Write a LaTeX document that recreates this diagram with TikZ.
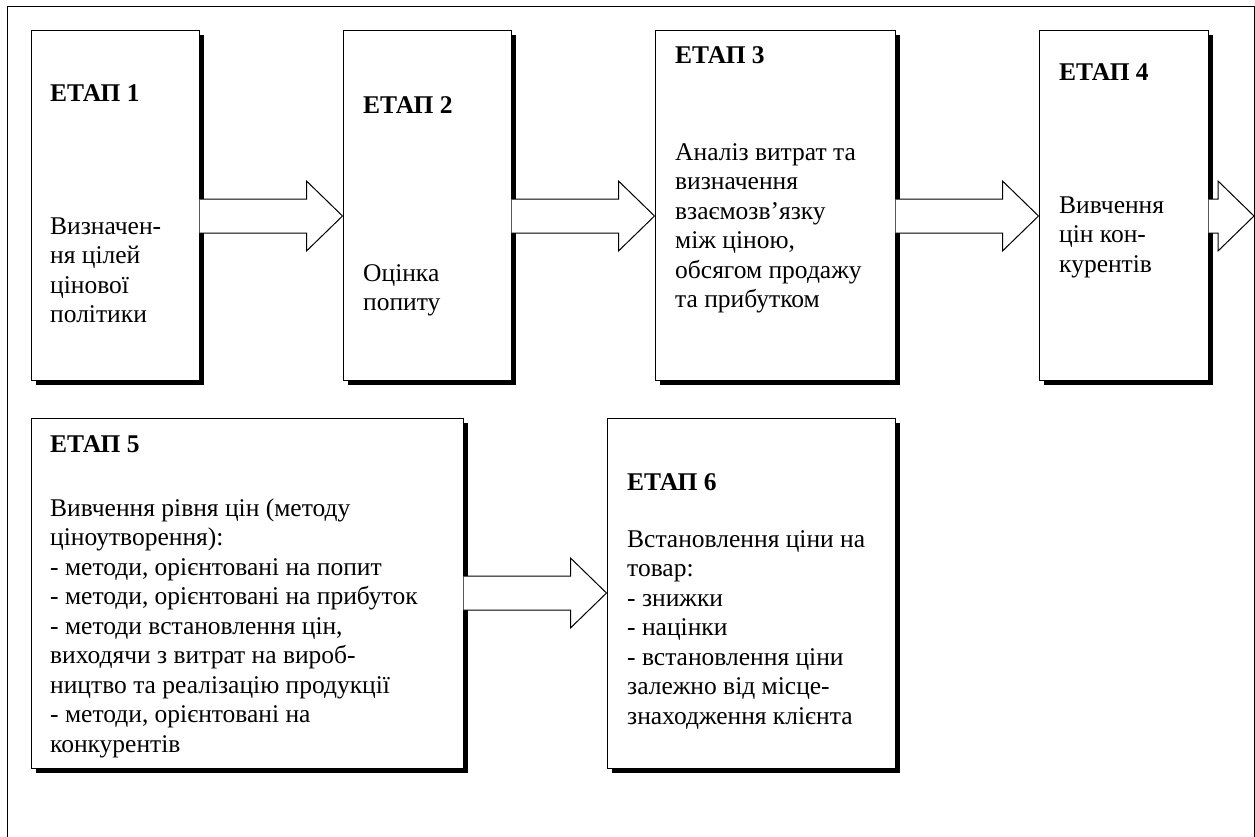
\documentclass[tikz,border=0pt]{standalone}
\usepackage{fontspec}
\setmainfont{Liberation Serif}[Ligatures=TeX]
\usetikzlibrary{positioning, calc, shadows}

\newcommand{\stagefont}{\fontsize{25.5}{29.5}\selectfont}

\tikzset{
  stagebox/.style={draw, line width=1pt, fill=white, inner sep=0pt,
    minimum height=350pt,
    general shadow={fill=black, shadow xshift=5pt, shadow yshift=-5pt}},
  stagetitle/.style={anchor=base west, inner sep=0pt, font=\stagefont\bfseries},
  % first baseline at the given point (strut is 0.7 of 29.5pt)
  stagetext/.style={anchor=north west, yshift=20.65pt, inner sep=0pt,
    align=left, font=\stagefont, execute at begin node=\strut},
  blockarrow/.style={line width=1pt, fill=white, line join=miter},
  rim/.style={line width=0.9pt}
}

% block arrow: from the east side of #1 to the point #2, axis #3 below #2
\newcommand{\stagearrow}[3]{%
  \filldraw[blockarrow] let \p1=(#1.east), \p2=(#2) in
    (\x1,\y2-#3+17) -- (\x2-36,\y2-#3+17) -- (\x2-36,\y2-#3+35)
    -- (\x2,\y2-#3) -- (\x2-36,\y2-#3-35) -- (\x2-36,\y2-#3-17)
    -- (\x1,\y2-#3-17);}

\begin{document}
\begin{tikzpicture}[x=1pt, y=-1pt, font=\stagefont]
  \useasboundingbox (0,0) rectangle (1255,836);
  % outer frame
  \draw[rim] (7,840) |- (1254,6) -- (1254,840);
  \coordinate (rimE) at (1254,216);

  % first row
  \node[stagebox, minimum width=168pt] (s1) at (115,205) {};
  \node[stagebox, minimum width=168pt] (s2) at (427,205) {};
  \node[stagebox, minimum width=240pt] (s3) at (775,205) {};
  \node[stagebox, minimum width=169pt] (s4) at (1123.5,205) {};
  % second row
  \node[stagebox, minimum width=432pt] (s5) at (247,593) {};
  \node[stagebox, minimum width=288pt] (s6) at (751,593) {};

  % texts
  \node[stagetitle] (t1) at (50,101) {ЕТАП 1};
  \node[stagetext] (d1) at (50,238) {Визначен-\\ня цілей\\цінової\\політики};
  \node[stagetitle] (t2) at (363,113) {ЕТАП 2};
  \node[stagetext] (d2) at (363,285) {Оцінка\\попиту};
  \node[stagetitle] (t3) at (675,63) {ЕТАП 3};
  \node[stagetext] (d3) at (675,164) {Аналіз витрат та\\визначення\\взаємозв’язку\\між ціною,\\обсягом продажу\\та прибутком};
  \node[stagetitle] (t4) at (1059,80) {ЕТАП 4};
  \node[stagetext] (d4) at (1059,217) {Вивчення\\цін кон-\\курентів};
  \node[stagetitle] (t5) at (50,452) {ЕТАП 5};
  \node[stagetext] (d5) at (50,519) {Вивчення рівня цін (методу\\ціноутворення):\\- методи, орієнтовані на попит\\- методи, орієнтовані на прибуток\\- методи встановлення цін,\\виходячи з витрат на вироб-\\ництво та реалізацію продукції\\- методи, орієнтовані на\\конкурентів};
  \node[stagetitle] (t6) at (627,490) {ЕТАП 6};
  \node[stagetext] (d6) at (627,551) {Встановлення ціни на\\товар:\\- знижки\\- націнки\\- встановлення ціни\\залежно від місце-\\знаходження клієнта};

  % arrows between stages
  \foreach \a/\b/\d in {s1/s2.west/11, s2/s3.west/11, s3/s4.west/11, s4/rimE/0, s5/s6.west/0}
    \stagearrow{\a}{\b}{\d};
\end{tikzpicture}
\end{document}
